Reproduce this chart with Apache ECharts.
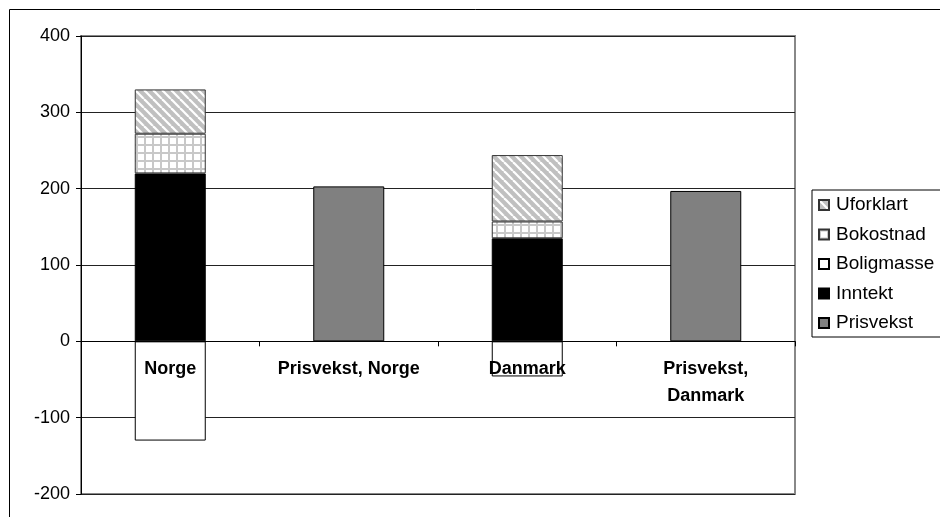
<!DOCTYPE html>
<html>
<head>
<meta charset="utf-8">
<script src="https://cdn.jsdelivr.net/npm/echarts@6/dist/echarts.min.js"></script>
<style>
  html, body { margin: 0; padding: 0; background: #fff; }
  #chart { width: 940px; height: 517px; }
</style>
</head>
<body>
<div id="chart"></div>
<script>
const categories = ['Norge', 'Prisvekst, Norge', 'Danmark', 'Prisvekst,\nDanmark'];
const inntekt = [220, null, 135, null];
const bokostnad = [52, null, 22, null];
const uforklart = [58, null, 87, null];
const boligmasse = [-130, null, -46, null];
const prisvekst = [null, 203, null, 197];
const yTicks = [-200, -100, 0, 100, 200, 300, 400];

function stripePattern() {
  const s = 9;
  const c = document.createElement('canvas');
  c.width = s; c.height = s;
  const ctx = c.getContext('2d');
  ctx.fillStyle = '#c0c0c0';
  ctx.fillRect(0, 0, s, s);
  ctx.strokeStyle = '#ffffff';
  ctx.lineWidth = 2.2;
  for (let k = -1; k <= 1; k++) {
    ctx.beginPath();
    ctx.moveTo(k * s, 0);
    ctx.lineTo(k * s + s, s);
    ctx.stroke();
  }
  return c;
}

function gridPattern() {
  const s = 8;
  const c = document.createElement('canvas');
  c.width = s; c.height = s;
  const ctx = c.getContext('2d');
  ctx.fillStyle = '#ffffff';
  ctx.fillRect(0, 0, s, s);
  ctx.fillStyle = '#c8c8c8';
  ctx.fillRect(0, 0, s, 2);
  ctx.fillRect(0, 0, 2, s);
  return c;
}

const chart = echarts.init(document.getElementById('chart'));

const barBase = { type: 'bar', stack: 'total', barWidth: 71 };

chart.setOption({
  animation: false,
  textStyle: { fontFamily: 'Liberation Sans, Arial, sans-serif' },
  grid: {
    left: 81, right: 145, top: 36, bottom: 23,
    outerBoundsMode: 'none', containLabel: false,
    show: true, borderColor: '#888', borderWidth: 2
  },
  graphic: [{
    type: 'rect',
    shape: { x: 9.5, y: 9.5, width: 1000, height: 1000 },
    style: { fill: 'none', stroke: '#000', lineWidth: 1 },
    silent: true
  }],
  legend: {
    orient: 'vertical',
    left: 812, top: 190,
    padding: [5, 40, 4, 6],
    itemGap: 9.5,
    itemWidth: 10, itemHeight: 10,
    icon: 'rect',
    borderColor: '#000', borderWidth: 1,
    textStyle: { fontSize: 19, color: '#000', lineHeight: 20, padding: [0, 0, 0, 2] },
    data: ['Uforklart', 'Bokostnad', 'Boligmasse', 'Inntekt', 'Prisvekst']
  },
  xAxis: {
    type: 'category',
    data: categories,
    z: 10,
    axisLine: { onZero: true, lineStyle: { color: '#000', width: 1 } },
    axisTick: { show: true, length: 5, lineStyle: { color: '#000' } },
    axisLabel: {
      interval: 0, margin: -138,
      fontSize: 18, fontWeight: 'bold', color: '#000', lineHeight: 27,
      verticalAlign: 'top'
    }
  },
  yAxis: {
    type: 'value',
    min: yTicks[0], max: yTicks[yTicks.length - 1], interval: 100,
    axisLine: { show: true, lineStyle: { color: '#000' } },
    axisTick: { show: true, length: 5, lineStyle: { color: '#000' } },
    axisLabel: { fontSize: 18, color: '#000', margin: 11 },
    splitLine: { lineStyle: { color: '#222', width: 1 } }
  },
  series: [
    Object.assign({}, barBase, {
      name: 'Prisvekst', data: prisvekst,
      itemStyle: { color: '#808080', borderColor: '#000', borderWidth: 1 }
    }),
    Object.assign({}, barBase, {
      name: 'Inntekt', data: inntekt,
      itemStyle: { color: '#000', borderColor: '#000', borderWidth: 1 }
    }),
    Object.assign({}, barBase, {
      name: 'Boligmasse', data: boligmasse,
      itemStyle: { color: '#fff', borderColor: '#000', borderWidth: 1 }
    }),
    Object.assign({}, barBase, {
      name: 'Bokostnad', data: bokostnad,
      itemStyle: { color: { image: gridPattern(), repeat: 'repeat' }, borderColor: '#333', borderWidth: 1 }
    }),
    Object.assign({}, barBase, {
      name: 'Uforklart', data: uforklart,
      itemStyle: { color: { image: stripePattern(), repeat: 'repeat' }, borderColor: '#333', borderWidth: 1 }
    })
  ]
});
</script>
</body>
</html>
